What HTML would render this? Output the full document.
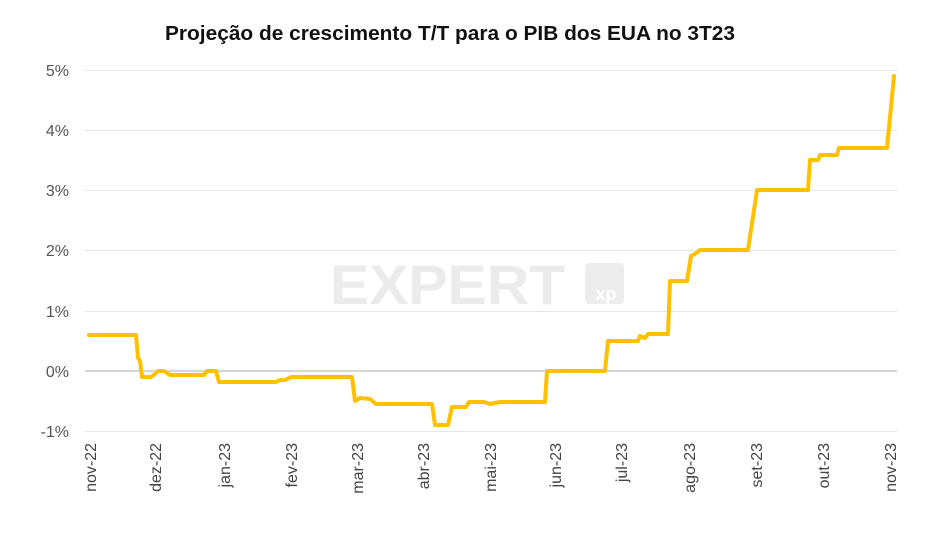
<!DOCTYPE html>
<html><head><meta charset="utf-8"><style>
body{margin:0;background:#fff;width:926px;height:552px;overflow:hidden}
svg{display:block;font-family:"Liberation Sans",sans-serif}
</style></head><body>
<svg width="926" height="552" viewBox="0 0 926 552">
<text x="165" y="40" textLength="570" lengthAdjust="spacingAndGlyphs" font-size="20" font-weight="bold" fill="#111">Projeção de crescimento T/T para o PIB dos EUA no 3T23</text>
<g stroke="#e6e6e6" stroke-width="1">
<line x1="85" x2="897" y1="70.5" y2="70.5"/><line x1="85" x2="897" y1="130.5" y2="130.5"/>
<line x1="85" x2="897" y1="190.5" y2="190.5"/><line x1="85" x2="897" y1="250.5" y2="250.5"/>
<line x1="85" x2="897" y1="311.5" y2="311.5"/><line x1="85" x2="897" y1="431.5" y2="431.5"/>
</g>
<line x1="85" x2="897" y1="371" y2="371" stroke="#c8c8c8" stroke-width="1.5"/>
<g font-size="16" fill="#555" text-anchor="end">
<text x="69" y="76">5%</text><text x="69" y="136">4%</text><text x="69" y="196">3%</text>
<text x="69" y="256">2%</text><text x="69" y="317">1%</text><text x="69" y="377">0%</text><text x="69" y="437">-1%</text>
</g>
<g fill="#ececec">
<text x="330" y="304" textLength="235" lengthAdjust="spacingAndGlyphs" font-size="56" font-weight="bold" fill="#ebebeb">EXPERT</text>
<rect x="585" y="263" width="39" height="41" rx="4"/>
</g>
<text x="606" y="300" text-anchor="middle" font-size="18" font-weight="bold" fill="#fff">xp</text>
<polyline fill="none" stroke="#FFC000" stroke-width="4" stroke-linejoin="round" stroke-linecap="round" points="89,335 136,335 138,358 140,361 142,377 151,377 155,374 158,371 164,371 170,375 204,375 207,371 216,371 219,382 276,382 280,380 285,380 291,377 352,377 355,401 360,398 370,399 376,404 432,404 435,425 448,425 452,407 466,407 469,402 484,402 490,404 500,402 545,402 547,371 605,371 608,341 638,341 640,336 645,338 648,334 668,334 670,281 687,281 691,256 695,254 700,250 748,250 757,190 808,190 810,160 818,160 820,155 837,155 839,148 887,148 894,76"/>
<g font-size="16" fill="#444" text-anchor="end">
<text transform="translate(96,443) rotate(-90)">nov-22</text>
<text transform="translate(161,443) rotate(-90)">dez-22</text>
<text transform="translate(230,443) rotate(-90)">jan-23</text>
<text transform="translate(297,443) rotate(-90)">fev-23</text>
<text transform="translate(363,443) rotate(-90)">mar-23</text>
<text transform="translate(429,443) rotate(-90)">abr-23</text>
<text transform="translate(496,443) rotate(-90)">mai-23</text>
<text transform="translate(561,443) rotate(-90)">jun-23</text>
<text transform="translate(627,443) rotate(-90)">jul-23</text>
<text transform="translate(695,443) rotate(-90)">ago-23</text>
<text transform="translate(762,443) rotate(-90)">set-23</text>
<text transform="translate(829,443) rotate(-90)">out-23</text>
<text transform="translate(896,443) rotate(-90)">nov-23</text>
</g>
</svg>
</body></html>
